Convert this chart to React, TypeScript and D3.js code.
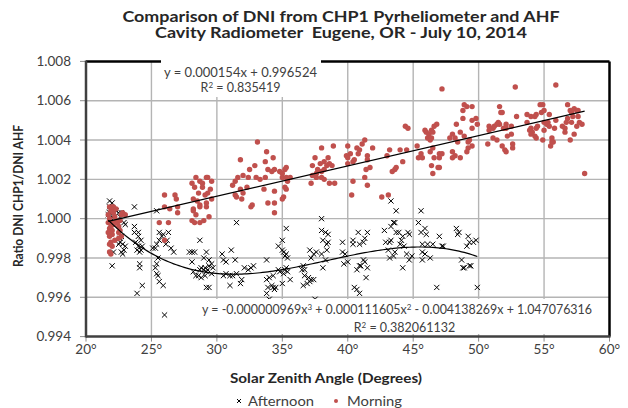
import React from 'react';
import * as d3 from 'd3';

// solar zenith angle (deg), ratio CHP1 / AHF
const morning: [number, number][] = [
  [21.8, 1.0006], [22.0, 1.0005], [21.9, 1.0004], [21.7, 1.0002], [22.1, 1.0003], [22.2, 1.0001], [21.8, 1.0000], [22.0, 0.9998],
  [21.7, 0.9998], [22.1, 0.9997], [21.8, 0.9995], [22.0, 0.9994], [21.7, 0.9993], [22.0, 0.9992], [21.8, 0.9991], [21.9, 0.9988],
  [21.8, 0.9987], [22.0, 0.9986], [21.8, 0.9983], [21.9, 0.9982], [22.3, 0.9999], [22.5, 0.9996], [22.6, 0.9994], [22.5, 0.9993],
  [22.7, 0.9991], [22.5, 0.9990], [22.8, 1.0003], [22.7, 1.0002], [22.3, 1.0005], [22.1, 1.0006], [22.0, 1.0006], [21.9, 0.9996],
  [22.2, 0.9989], [22.4, 0.9998], [22.6, 0.9999], [23.0, 1.0002],
  [25.6, 0.9998], [26.3, 0.9998], [26.0, 0.9989], [26.4, 1.0005], [27.0, 1.0003], [27.0, 1.0006], [26.0, 1.0012], [26.0, 1.0006],
  [26.8, 1.0012], [26.9, 1.0010],
  [28.1, 1.0018], [28.3, 1.0016], [28.4, 1.0021], [28.7, 1.0019], [28.9, 1.0016], [29.2, 1.0021], [29.3, 1.0021], [29.6, 1.0019],
  [28.2, 1.0010], [28.6, 1.0013], [29.1, 1.0012], [29.3, 1.0013], [28.7, 1.0007], [29.2, 1.0008], [29.6, 1.0010], [28.2, 1.0005],
  [28.9, 1.0018], [28.1, 0.9999], [28.3, 0.9998], [28.7, 0.9998], [29.0, 0.9999], [29.4, 1.0001], [28.4, 1.0002], [28.2, 1.0004],
  [29.2, 1.0006], [28.7, 1.0006], [29.5, 1.0015], [28.5, 1.0009],
  [31.8, 1.0030], [33.1, 1.0039], [31.2, 1.0017], [31.4, 1.0019], [31.6, 1.0021], [32.0, 1.0022], [32.4, 1.0021], [32.5, 1.0025],
  [32.9, 1.0027], [33.0, 1.0021], [31.8, 1.0015], [31.4, 1.0012], [31.5, 1.0011], [32.0, 1.0013], [32.3, 1.0016], [31.9, 1.0010],
  [32.7, 1.0007], [33.3, 1.0020], [32.6, 1.0006],
  [33.8, 1.0034], [33.7, 1.0029], [34.3, 1.0031], [33.9, 1.0025], [34.2, 1.0024], [34.4, 1.0025], [34.8, 1.0024], [35.0, 1.0023],
  [35.2, 1.0025], [35.3, 1.0026], [33.7, 1.0021], [35.0, 1.0021], [35.3, 1.0021], [35.4, 1.0019], [35.2, 1.0016], [35.3, 1.0015],
  [35.1, 1.0011], [35.0, 1.0010], [33.9, 1.0008], [34.4, 1.0008], [34.4, 1.0014], [35.6, 1.0021], [33.6, 1.0015], [34.4, 1.0003],
  [37.2, 1.0018], [37.3, 1.0027], [37.5, 1.0031], [38.0, 1.0036], [38.9, 1.0037], [37.7, 1.0025], [37.9, 1.0028], [38.2, 1.0029],
  [38.5, 1.0031], [38.6, 1.0028], [38.4, 1.0027], [37.3, 1.0022], [37.6, 1.0023], [38.0, 1.0024], [38.2, 1.0025], [38.8, 1.0027],
  [38.0, 1.0021], [38.2, 1.0020], [38.6, 1.0018], [39.0, 1.0018], [37.6, 1.0021],
  [40.0, 1.0037], [40.2, 1.0033], [40.7, 1.0036], [41.1, 1.0038], [41.3, 1.0040], [39.9, 1.0032], [40.0, 1.0031], [40.5, 1.0030],
  [40.4, 1.0029], [40.8, 1.0033], [40.9, 1.0035], [41.5, 1.0032], [41.5, 1.0030], [41.9, 1.0036], [40.0, 1.0028], [41.4, 1.0025],
  [41.3, 1.0021], [41.7, 1.0026], [41.5, 1.0017], [40.4, 1.0019], [40.3, 1.0012],
  [42.6, 1.0011], [43.1, 1.0012], [43.0, 1.0032], [43.2, 1.0035], [43.4, 1.0024], [43.6, 1.0025], [43.7, 1.0026], [44.0, 1.0035],
  [44.2, 1.0029], [44.5, 1.0035], [44.4, 1.0047], [44.6, 1.0046],
  [45.3, 1.0037], [45.4, 1.0031], [45.6, 1.0033], [45.7, 1.0031], [45.9, 1.0045], [46.0, 1.0044], [46.2, 1.0043], [46.4, 1.0045],
  [46.5, 1.0044], [46.6, 1.0047], [46.8, 1.0048], [46.3, 1.0040], [46.1, 1.0041], [46.4, 1.0041], [46.5, 1.0036], [46.3, 1.0034],
  [46.6, 1.0031], [47.0, 1.0033], [47.0, 1.0031], [46.4, 1.0027], [46.9, 1.0026], [46.5, 1.0023], [47.2, 1.0066], [47.2, 1.0033],
  [47.0, 1.0026],
  [48.9, 1.0058], [49.1, 1.0057], [49.5, 1.0057], [48.8, 1.0055], [48.8, 1.0051], [49.5, 1.0050], [49.8, 1.0051], [49.9, 1.0048],
  [48.3, 1.0048], [48.6, 1.0044], [48.9, 1.0042], [49.5, 1.0046], [48.0, 1.0043], [48.2, 1.0041], [47.8, 1.0041], [48.4, 1.0039],
  [49.2, 1.0039], [49.3, 1.0040], [49.5, 1.0037], [49.2, 1.0036], [49.1, 1.0034], [48.0, 1.0034], [48.2, 1.0032], [48.0, 1.0031],
  [48.6, 1.0031],
  [51.6, 1.0057], [51.8, 1.0054], [51.7, 1.0054], [50.8, 1.0047], [51.1, 1.0046], [51.2, 1.0047], [51.5, 1.0049], [51.4, 1.0048],
  [51.6, 1.0048], [52.1, 1.0048], [51.9, 1.0046], [52.1, 1.0046], [52.5, 1.0047], [50.8, 1.0045], [52.9, 1.0052], [51.1, 1.0041],
  [51.4, 1.0040], [50.7, 1.0038], [52.2, 1.0042], [52.5, 1.0043], [51.8, 1.0037], [52.0, 1.0035], [52.1, 1.0034], [52.6, 1.0038],
  [52.6, 1.0036], [52.8, 1.0067],
  [53.7, 1.0053], [54.0, 1.0052], [54.3, 1.0052], [54.4, 1.0053], [54.8, 1.0054], [54.7, 1.0058], [54.9, 1.0058], [55.0, 1.0055],
  [55.4, 1.0053], [53.7, 1.0049], [54.0, 1.0046], [53.9, 1.0045], [54.1, 1.0044], [54.4, 1.0046], [54.5, 1.0047], [54.0, 1.0043],
  [54.3, 1.0042], [54.4, 1.0041], [54.9, 1.0040], [55.0, 1.0049], [55.2, 1.0048], [55.3, 1.0049], [55.4, 1.0047], [55.0, 1.0045],
  [55.8, 1.0046], [55.6, 1.0041], [55.6, 1.0039], [55.5, 1.0037], [55.7, 1.0039], [55.9, 1.0068], [55.9, 1.0050],
  [56.8, 1.0058], [57.0, 1.0055], [57.1, 1.0054], [57.3, 1.0056], [57.5, 1.0055], [57.6, 1.0055], [57.2, 1.0052], [57.6, 1.0052],
  [57.7, 1.0049], [57.9, 1.0048], [56.8, 1.0051], [56.7, 1.0049], [57.1, 1.0049], [57.5, 1.0047], [56.4, 1.0047], [56.6, 1.0046],
  [56.6, 1.0044], [57.3, 1.0043], [57.0, 1.0040], [58.1, 1.0023],
];

const afternoon: [number, number][] = [
  [21.8, 1.0009], [22.0, 1.0008], [21.8, 1.0006], [21.9, 1.0004], [21.8, 1.0003], [21.7, 1.0002], [22.0, 1.0001], [22.1, 1.0000],
  [22.3, 1.0004], [22.5, 1.0003], [22.6, 1.0001], [22.7, 1.0003], [22.1, 0.9983], [22.0, 0.9976], [22.5, 0.9987], [22.6, 0.9988],
  [22.8, 0.9987], [22.7, 0.9983], [22.8, 0.9982], [22.9, 0.9984], [23.0, 0.9986], [22.9, 0.9998], [23.0, 0.9997], [22.7, 0.9991],
  [22.6, 0.9990],
  [23.7, 1.0006], [23.7, 0.9993], [24.0, 0.9991], [23.8, 0.9988], [24.0, 0.9986], [24.1, 0.9983], [24.2, 0.9984], [23.7, 0.9996],
  [24.0, 0.9993], [24.2, 0.9989], [24.3, 0.9986], [23.9, 0.9984], [24.1, 0.9977], [24.1, 0.9975], [24.3, 0.9966], [23.9, 0.9962],
  [25.4, 1.0004], [25.1, 0.9985], [25.3, 0.9985], [25.4, 0.9987], [25.6, 0.9993], [25.8, 0.9991], [25.6, 0.9989], [25.9, 0.9992],
  [26.3, 0.9993], [26.1, 0.9987], [26.5, 0.9985], [26.7, 0.9983], [25.5, 0.9980], [25.4, 0.9977], [25.3, 0.9975], [25.4, 0.9972],
  [25.5, 0.9971], [25.6, 0.9968], [25.9, 0.9966], [26.0, 0.9951], [26.2, 0.9989],
  [27.9, 0.9983], [28.1, 0.9983], [28.3, 0.9983], [28.1, 0.9978], [28.7, 0.9989], [29.0, 0.9980], [29.2, 0.9983], [29.4, 0.9979],
  [29.4, 0.9976], [29.6, 0.9977], [28.2, 0.9973], [28.4, 0.9971], [28.6, 0.9971], [28.8, 0.9975], [29.0, 0.9974], [29.1, 0.9975],
  [29.2, 0.9973], [29.3, 0.9974], [28.8, 0.9970], [29.2, 0.9965], [29.4, 0.9965], [29.6, 0.9972], [29.7, 0.9975], [29.1, 0.9971],
  [28.7, 0.9974],
  [30.4, 0.9982], [30.5, 0.9979], [30.7, 0.9978], [31.1, 0.9984], [31.4, 0.9979], [30.5, 0.9971], [30.7, 0.9972], [31.0, 0.9971],
  [31.2, 0.9971], [31.5, 0.9972], [31.9, 0.9969], [32.1, 0.9975], [32.4, 0.9974], [32.6, 0.9975], [32.8, 0.9976], [31.0, 0.9966],
  [31.8, 0.9967], [31.5, 0.9998],
  [33.8, 0.9979], [33.8, 0.9969], [34.0, 0.9970], [34.3, 0.9971], [33.9, 0.9965], [34.2, 0.9966], [34.3, 0.9965], [34.4, 0.9964],
  [34.5, 0.9965], [33.8, 0.9962], [34.0, 0.9959], [34.7, 0.9974], [34.8, 0.9973], [35.1, 0.9972], [35.2, 0.9974], [35.3, 0.9975],
  [35.4, 0.9973], [35.6, 0.9969], [35.0, 0.9967], [34.7, 0.9986], [35.0, 0.9984], [35.1, 0.9983], [35.3, 0.9982], [35.2, 0.9981],
  [35.4, 0.9980], [35.0, 0.9989], [35.3, 0.9995],
  [36.6, 0.9976], [36.7, 0.9974], [37.0, 0.9970], [37.2, 0.9969], [36.6, 0.9966], [36.9, 0.9967], [37.1, 0.9968], [37.4, 0.9969],
  [37.5, 0.9959], [36.5, 0.9974], [36.7, 0.9971], [37.1, 0.9984], [37.4, 0.9982], [37.2, 0.9980], [37.6, 0.9983], [38.0, 0.9982],
  [38.4, 0.9984], [38.3, 0.9979], [38.1, 0.9975], [38.0, 1.0000], [38.0, 0.9994], [38.3, 0.9993], [38.5, 0.9992], [38.4, 0.9987],
  [38.1, 0.9989], [38.5, 0.9988],
  [39.6, 0.9983], [39.8, 0.9982], [39.7, 0.9977], [40.0, 0.9978], [39.6, 0.9988], [40.4, 0.9989], [40.8, 0.9993], [41.2, 0.9988],
  [41.3, 0.9990], [41.5, 0.9993], [40.9, 0.9987], [41.2, 0.9979], [41.3, 0.9978], [41.0, 0.9976], [40.9, 0.9976], [40.7, 0.9974],
  [41.5, 0.9975], [41.4, 0.9970], [40.5, 0.9965], [40.7, 0.9964], [40.9, 0.9962], [40.4, 0.9987],
  [42.8, 0.9994], [42.9, 0.9988], [43.2, 0.9988], [43.3, 0.9989], [43.1, 0.9984], [43.2, 0.9980], [43.5, 0.9981], [43.6, 0.9983],
  [43.7, 0.9993], [43.9, 0.9993], [44.1, 0.9989], [44.2, 0.9991], [44.0, 0.9987], [44.3, 0.9986], [44.6, 0.9993], [44.7, 0.9992],
  [44.5, 0.9982], [44.7, 0.9979], [44.2, 0.9975], [44.9, 0.9981], [43.3, 1.0009], [43.5, 0.9998], [43.6, 0.9998], [43.7, 1.0004],
  [43.3, 0.9996],
  [45.6, 1.0004], [45.4, 0.9998], [45.6, 0.9993], [45.9, 0.9995], [46.0, 0.9992], [45.7, 0.9987], [45.7, 0.9983], [45.9, 0.9982],
  [45.7, 0.9979], [46.3, 0.9980], [46.1, 0.9987], [46.5, 0.9987], [47.0, 0.9991], [47.2, 0.9986], [47.3, 0.9986], [46.8, 0.9965],
  [48.3, 0.9995], [48.4, 0.9992], [48.5, 0.9993], [49.2, 0.9991], [49.3, 0.9988], [49.6, 0.9988], [49.8, 0.9989], [49.1, 0.9986],
  [48.7, 0.9979], [48.8, 0.9975], [48.9, 0.9975], [49.3, 0.9976], [49.4, 0.9976], [49.9, 0.9965],
];

// trendline coefficients, highest power first
const linearFit = [0.000154, 0.996524];
const polyFit = [-0.000000969, 0.000111605, -0.004138269, 1.047076316];

const xTicks = [20, 25, 30, 35, 40, 45, 50, 55, 60];
const yTicks = [0.994, 0.996, 0.998, 1.0, 1.002, 1.004, 1.006, 1.008];

const W = 628;
const H = 408;
const font = 'Lato, "Liberation Sans", sans-serif';
const red = '#c0504d';
const textCol = '#404040';

const evalPoly = (c: number[], v: number) => c.reduce((acc, k) => acc * v + k, 0);

const App = () => {
  const x = d3.scaleLinear().domain([20, 60]).range([86, 609.5]);
  const y = d3.scaleLinear().domain([0.994, 1.008]).range([336.6, 61.4]);

  const line = d3.line<number>().x((d) => x(d));

  const mExt = d3.extent(morning, (d) => d[0]) as [number, number];
  const aExt = d3.extent(afternoon, (d) => d[0]) as [number, number];
  const linPath = line.y((d) => y(evalPoly(linearFit, d)))(mExt) as string;
  const polyXs = d3.range(aExt[0], aExt[1] + 0.001, 0.2);
  const polyPath = line.y((d) => y(evalPoly(polyFit, d)))(polyXs) as string;

  const [x0, x1] = x.range();
  const [y0, y1] = y.range();
  const cross = 'M-2.6,-2.6L2.6,2.6M-2.6,2.6L2.6,-2.6';

  return (
    <svg width={W} height={H} style={{ position: 'absolute', left: 0, top: 0, background: '#fff' }}>
      <rect width={W} height={H} fill="#fff" />

      {/* title */}
      <g fontFamily={font} fontWeight="bold" fill="#262626" fontSize={14.5} textAnchor="middle">
        <text x={341} y={21.5} textLength={437} lengthAdjust="spacingAndGlyphs">
          Comparison of DNI from CHP1 Pyrheliometer and AHF
        </text>
        <text x={341} y={37.5} textLength={372} lengthAdjust="spacingAndGlyphs">
          {'Cavity Radiometer \u00a0Eugene, OR - July 10, 2014'}
        </text>
      </g>

      {/* gridlines */}
      <g stroke="#b4b4b4" strokeWidth={1.4}>
        {yTicks.slice(1, -1).map((t) => (
          <line key={'h' + t} x1={x0} x2={x1} y1={y(t)} y2={y(t)} />
        ))}
        {xTicks.slice(1, -1).map((t) => (
          <line key={'v' + t} x1={x(t)} x2={x(t)} y1={y1} y2={y0} />
        ))}
      </g>

      {/* tick marks */}
      <g stroke="#8c8c8c" strokeWidth={1}>
        {yTicks.map((t) => (
          <line key={'yt' + t} x1={x0 - 6} x2={x0} y1={y(t)} y2={y(t)} />
        ))}
        {xTicks.map((t) => (
          <line key={'xt' + t} x1={x(t)} x2={x(t)} y1={y0} y2={y0 + 5} />
        ))}
      </g>

      {/* afternoon */}
      <g stroke="#000" strokeWidth={1} fill="none">
        {afternoon.map((d, i) => (
          <path key={i} d={cross} transform={`translate(${x(d[0])},${y(d[1])})`} />
        ))}
      </g>

      {/* morning */}
      <g fill={red}>
        {morning.map((d, i) => (
          <circle key={i} cx={x(d[0])} cy={y(d[1])} r={2.7} />
        ))}
      </g>

      {/* trendlines */}
      <path d={linPath} fill="none" stroke="#000" strokeWidth={1.2} />
      <path d={polyPath} fill="none" stroke="#000" strokeWidth={1.2} />

      {/* plot frame */}
      <line x1={x0} x2={x1} y1={y1} y2={y1} stroke="#000" strokeWidth={2.5} />
      <line x1={x1} x2={x1} y1={y1} y2={y0} stroke="#000" strokeWidth={2.5} />
      <line x1={x0} x2={x0} y1={y1 - 1} y2={y0 + 1} stroke="#404040" strokeWidth={2.5} />
      <line x1={x0} x2={x1 + 1} y1={y0} y2={y0} stroke="#404040" strokeWidth={2.5} />

      {/* trendline labels */}
      <rect x={161} y={58} width={160} height={39} fill="#fff" />
      <rect x={199} y={299} width={407} height={35} fill="#fff" />
      <g fontFamily={font} fontSize={12.5} fill={textCol} textAnchor="middle">
        <text x={240.5} y={77} textLength={153} lengthAdjust="spacingAndGlyphs">
          y = 0.000154x + 0.996524
        </text>
        <text x={240.5} y={91.5}>
          R<tspan dy={-4} fontSize={8}>2</tspan>
          <tspan dy={4}> = 0.835419</tspan>
        </text>
        <text x={397} y={314} textLength={390} lengthAdjust="spacingAndGlyphs">
          y = -0.000000969x<tspan dy={-4} fontSize={8}>3</tspan>
          <tspan dy={4}> + 0.000111605x</tspan>
          <tspan dy={-4} fontSize={8}>2</tspan>
          <tspan dy={4}> - 0.004138269x + 1.047076316</tspan>
        </text>
        <text x={404.5} y={331.5}>
          R<tspan dy={-4} fontSize={8}>2</tspan>
          <tspan dy={4}> = 0.382061132</tspan>
        </text>
      </g>

      {/* tick labels */}
      <g fontFamily={font} fontSize={13.5} fill={textCol}>
        {yTicks.map((t) => (
          <text key={'yl' + t} x={71} y={y(t)} dy="0.35em" textAnchor="end">
            {d3.format('.3f')(t)}
          </text>
        ))}
        {xTicks.map((t) => (
          <text key={'xl' + t} x={x(t)} y={354} textAnchor="middle">
            {t + '°'}
          </text>
        ))}
      </g>

      {/* axis titles */}
      <g fontFamily={font} fontWeight="bold" fill="#262626" fontSize={13.5} textAnchor="middle">
        <text x={326} y={382.5} textLength={192} lengthAdjust="spacingAndGlyphs">
          Solar Zenith Angle (Degrees)
        </text>
        <text
          transform="translate(23,196) rotate(-90)"
          textLength={142}
          lengthAdjust="spacingAndGlyphs"
        >
          Ratio DNI CHP1/DNI AHF
        </text>
      </g>

      {/* legend */}
      <g fontFamily={font} fontSize={13.5} fill={textCol}>
        <path d="M-2,-2L2,2M-2,2L2,-2" transform="translate(239,401)" stroke="#000" strokeWidth={1} />
        <text x={248} y={405.5} textLength={66} lengthAdjust="spacingAndGlyphs">Afternoon</text>
        <circle cx={336} cy={401} r={2} fill={red} />
        <text x={347} y={405.5} textLength={55} lengthAdjust="spacingAndGlyphs">Morning</text>
      </g>
    </svg>
  );
};

export default App;
